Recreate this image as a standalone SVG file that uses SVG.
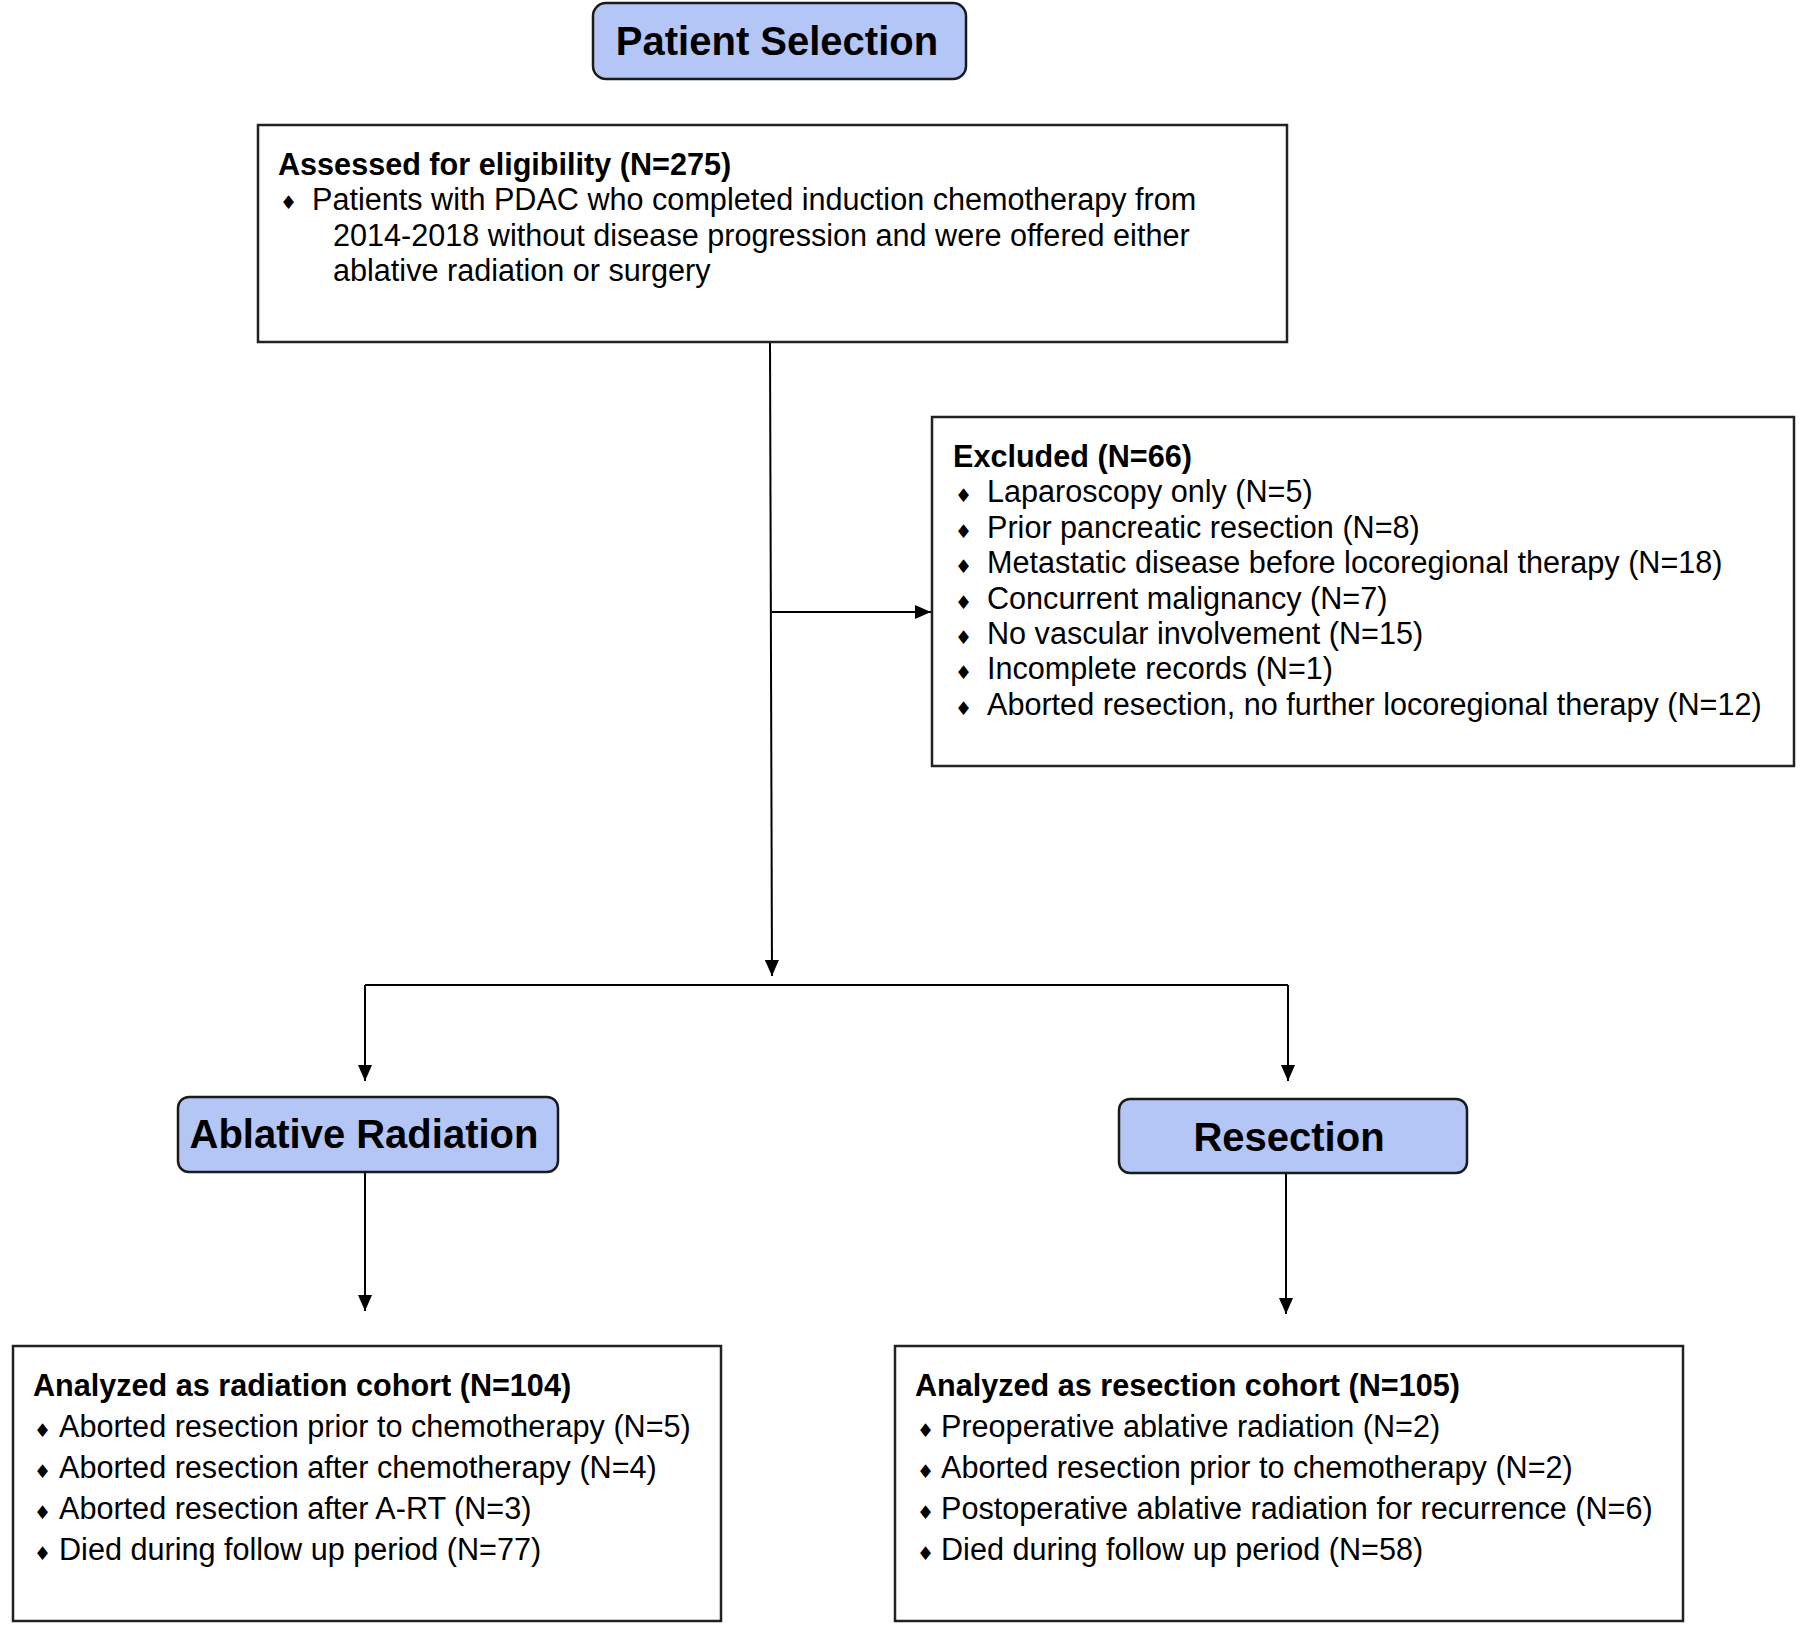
<svg xmlns="http://www.w3.org/2000/svg" width="1800" height="1631" viewBox="0 0 1800 1631">
<style>
.box{fill:#ffffff;stroke:#222222;stroke-width:2.5}
.hdr{fill:#b4c6f6;stroke:#1a1a1a;stroke-width:2.5}
.ht{font-family:"Liberation Sans",Arial,sans-serif;font-weight:bold;font-size:40px;fill:#000;text-anchor:middle}
.tt{font-family:"Liberation Sans",Arial,sans-serif;font-weight:bold;font-size:30.6px;fill:#000}
.t{font-family:"Liberation Sans",Arial,sans-serif;font-size:30.6px;fill:#000}
.b{font-family:"DejaVu Sans",sans-serif;font-size:19px;fill:#000}
.c{fill:none;stroke:#000;stroke-width:2}
</style>
<defs>
<marker id="ah" markerUnits="userSpaceOnUse" markerWidth="16" markerHeight="14" refX="16" refY="7" orient="auto">
<path d="M0,0 L16,7 L0,14 z" fill="#000"/>
</marker>
</defs>
<rect width="1800" height="1631" fill="#fff"/>
<g id="connectors">
<path class="c" d="M770,342 L772,976" marker-end="url(#ah)"/>
<path class="c" d="M772,612 L931,612" marker-end="url(#ah)"/>
<path class="c" d="M365,985 L1288,985"/>
<path class="c" d="M365,985 L365,1081" marker-end="url(#ah)"/>
<path class="c" d="M1288,985 L1288,1081" marker-end="url(#ah)"/>
<path class="c" d="M365,1172 L365,1311" marker-end="url(#ah)"/>
<path class="c" d="M1286,1173 L1286,1314" marker-end="url(#ah)"/>
</g>
<g id="patient-selection">
<rect class="hdr" x="593" y="3" width="373" height="76" rx="13"/>
<text class="ht" x="777" y="55">Patient Selection</text>
</g>
<g id="assessed">
<rect class="box" x="258" y="125" width="1029" height="217"/>
<text class="tt" x="278" y="175">Assessed for eligibility (N=275)</text>
<text class="b" x="280" y="209">♦</text>
<text class="t" x="312" y="210">Patients with PDAC who completed induction chemotherapy from</text>
<text class="t" x="333" y="246">2014-2018 without disease progression and were offered either</text>
<text class="t" x="333" y="281">ablative radiation or surgery</text>
</g>
<g id="excluded">
<rect class="box" x="932" y="417" width="862" height="349"/>
<text class="tt" x="953" y="467">Excluded (N=66)</text>
<text class="b" x="955" y="502">♦</text><text class="t" x="987" y="502">Laparoscopy only (N=5)</text>
<text class="b" x="955" y="538">♦</text><text class="t" x="987" y="538">Prior pancreatic resection (N=8)</text>
<text class="b" x="955" y="573">♦</text><text class="t" x="987" y="573">Metastatic disease before locoregional therapy (N=18)</text>
<text class="b" x="955" y="609">♦</text><text class="t" x="987" y="609">Concurrent malignancy (N=7)</text>
<text class="b" x="955" y="644">♦</text><text class="t" x="987" y="644">No vascular involvement (N=15)</text>
<text class="b" x="955" y="679">♦</text><text class="t" x="987" y="679">Incomplete records (N=1)</text>
<text class="b" x="955" y="715">♦</text><text class="t" x="987" y="715">Aborted resection, no further locoregional therapy (N=12)</text>
</g>
<g id="ablative-radiation">
<rect class="hdr" x="178" y="1097" width="380" height="75" rx="11"/>
<text class="ht" x="364" y="1148">Ablative Radiation</text>
</g>
<g id="resection">
<rect class="hdr" x="1119" y="1099" width="348" height="74" rx="11"/>
<text class="ht" x="1289" y="1151">Resection</text>
</g>
<g id="radiation-cohort">
<rect class="box" x="13" y="1346" width="708" height="275"/>
<text class="tt" x="33" y="1396">Analyzed as radiation cohort (N=104)</text>
<text class="b" x="34" y="1437">♦</text><text class="t" x="59" y="1437">Aborted resection prior to chemotherapy (N=5)</text>
<text class="b" x="34" y="1478">♦</text><text class="t" x="59" y="1478">Aborted resection after chemotherapy (N=4)</text>
<text class="b" x="34" y="1519">♦</text><text class="t" x="59" y="1519">Aborted resection after A-RT (N=3)</text>
<text class="b" x="34" y="1560">♦</text><text class="t" x="59" y="1560">Died during follow up period (N=77)</text>
</g>
<g id="resection-cohort">
<rect class="box" x="895" y="1346" width="788" height="275"/>
<text class="tt" x="915" y="1396">Analyzed as resection cohort (N=105)</text>
<text class="b" x="917" y="1437">♦</text><text class="t" x="941" y="1437">Preoperative ablative radiation (N=2)</text>
<text class="b" x="917" y="1478">♦</text><text class="t" x="941" y="1478">Aborted resection prior to chemotherapy (N=2)</text>
<text class="b" x="917" y="1519">♦</text><text class="t" x="941" y="1519">Postoperative ablative radiation for recurrence (N=6)</text>
<text class="b" x="917" y="1560">♦</text><text class="t" x="941" y="1560">Died during follow up period (N=58)</text>
</g>
</svg>
